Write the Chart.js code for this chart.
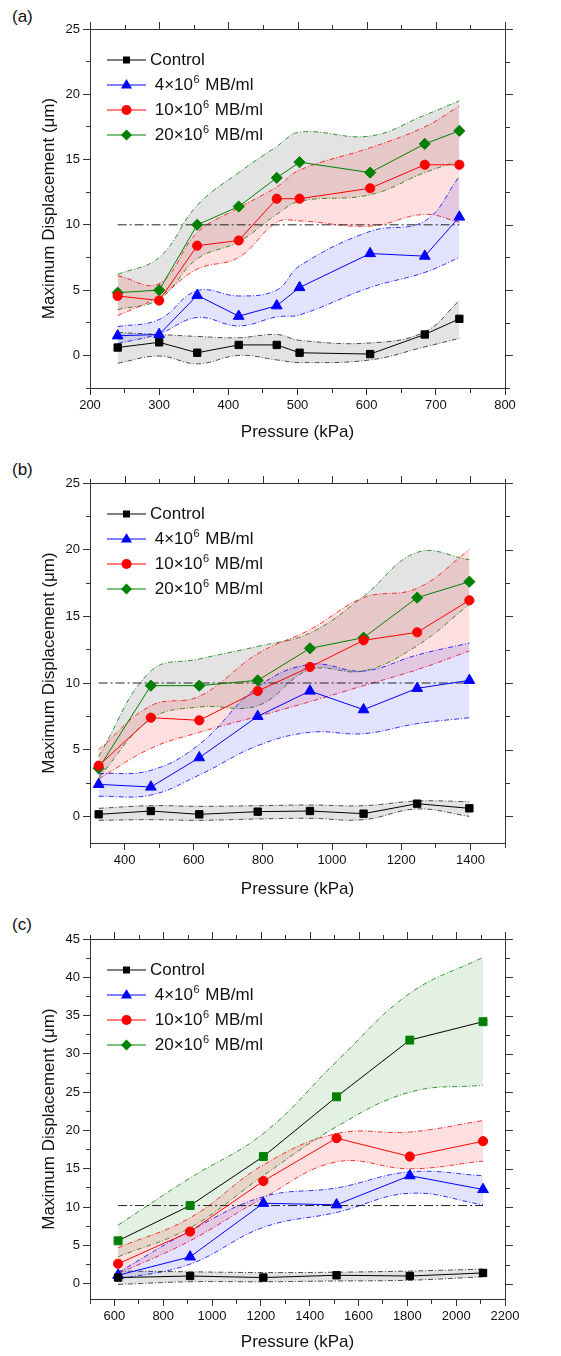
<!DOCTYPE html>
<html>
<head>
<meta charset="utf-8">
<title>Maximum displacement vs pressure</title>
<script src="https://cdn.jsdelivr.net/npm/chart.js@4.4.1/dist/chart.umd.min.js"></script>
<style>
  body { margin: 0; background: #fff; width: 561px; height: 1356px; position: relative; overflow: hidden; }
  canvas { position: absolute; left: 0; }
  .tag { position: absolute; left: 12px; font: 17px "Liberation Sans", Arial, sans-serif; color: #111; line-height: 20px; }
</style>
</head>
<body>
<div class="tag" style="top:7px">(a)</div>
<div class="tag" style="top:460px">(b)</div>
<div class="tag" style="top:915px">(c)</div>
<canvas id="chart-a" width="561" height="450" style="top:0"></canvas>
<canvas id="chart-b" width="561" height="455" style="top:450px"></canvas>
<canvas id="chart-c" width="561" height="451" style="top:905px"></canvas>
<script>
Chart.defaults.font.family = '"Liberation Sans", Arial, sans-serif';
Chart.defaults.color = '#111';

const seriesLabels = ['Control', ' 4×10⁶ MB/ml', ' 10×10⁶ MB/ml', ' 20×10⁶ MB/ml'];
const seriesColors = ['#000000', '#0000ff', '#ff0000', '#008000'];
const markerStyles = ['rect', 'triangle', 'circle', 'rectRot'];

// ---- panel (a)
const pressureA = [240, 300, 355, 415, 470, 503, 605, 684, 734];
const controlA = [0.6, 1.0, 0.2, 0.8, 0.8, 0.2, 0.1, 1.6, 2.8];
const controlA_hi = [1.75, 1.6, 1.45, 1.35, 1.6, 1.15, 0.95, 1.8, 4.2];
const controlA_lo = [-0.6, -0.05, -0.65, 0.0, -0.35, -0.55, -0.35, 0.65, 1.3];
const mb4A = [1.5, 1.6, 4.6, 3.0, 3.8, 5.2, 7.8, 7.6, 10.6];
const mb4A_hi = [2.2, 2.75, 4.95, 4.55, 5.0, 6.85, 9.5, 10.3, 13.7];
const mb4A_lo = [0.9, 1.65, 2.9, 2.25, 2.95, 3.1, 5.2, 6.35, 7.5];
const mb10A = [4.55, 4.2, 8.4, 8.8, 12.0, 12.0, 12.8, 14.6, 14.6];
const mb10A_hi = [6.1, 5.5, 9.4, 11.3, 12.9, 14.2, 15.9, 17.5, 19.1];
const mb10A_lo = [3.05, 4.5, 6.6, 7.5, 10.2, 10.3, 9.9, 10.8, 10.2];
const mb20A = [4.8, 5.0, 10.0, 11.4, 13.6, 14.8, 14.0, 16.2, 17.2];
const mb20A_hi = [6.2, 7.5, 11.5, 14.0, 16.0, 17.1, 16.8, 18.4, 19.5];
const mb20A_lo = [3.5, 4.3, 7.4, 8.7, 10.8, 11.8, 12.3, 14.0, 14.9];
const xTicksA = [200, 300, 400, 500, 600, 700, 800];
const yTicksA = [0, 5, 10, 15, 20, 25];

// ---- panel (b)
const pressureB = [325, 476, 616, 785, 936, 1091, 1246, 1397];
const controlB = [0.15, 0.4, 0.15, 0.35, 0.4, 0.2, 0.95, 0.6];
const controlB_hi = [0.6, 0.8, 0.75, 0.8, 0.85, 0.8, 1.15, 1.1];
const controlB_lo = [-0.3, -0.25, -0.3, -0.2, -0.15, -0.25, 0.55, 0.0];
const mb4B = [2.4, 2.2, 4.4, 7.5, 9.4, 8.0, 9.6, 10.2];
const mb4B_hi = [3.2, 3.45, 5.4, 9.7, 11.4, 10.9, 12.1, 13.0];
const mb4B_lo = [1.5, 1.6, 3.1, 5.3, 6.3, 6.2, 6.95, 7.4];
const mb10B = [3.8, 7.4, 7.2, 9.4, 11.2, 13.2, 13.8, 16.2];
const mb10B_hi = [5.0, 8.3, 9.0, 12.2, 14.0, 16.4, 17.1, 20.0];
const mb10B_lo = [2.8, 5.1, 6.3, 7.5, 8.6, 9.8, 11.0, 12.4];
const mb20B = [3.6, 9.8, 9.8, 10.2, 12.6, 13.4, 16.4, 17.6];
const mb20B_hi = [4.5, 10.9, 11.8, 12.75, 13.75, 16.5, 19.8, 19.25];
const mb20B_lo = [2.9, 7.3, 8.2, 8.3, 11.0, 10.9, 12.8, 15.9];
const xTicksB = [400, 600, 800, 1000, 1200, 1400];
const yTicksB = [0, 5, 10, 15, 20, 25];

// ---- panel (c)
const pressureC = [615, 910, 1210, 1510, 1810, 2110];
const controlC = [0.8, 1.0, 0.8, 1.1, 1.0, 1.4];
const controlC_hi = [1.65, 1.55, 1.45, 1.5, 1.65, 1.9];
const controlC_lo = [-0.1, 0.25, 0.25, 0.35, 0.45, 0.9];
const mb4C = [1.1, 3.5, 10.5, 10.3, 14.1, 12.3];
const mb4C_hi = [1.45, 6.9, 11.35, 12.5, 14.6, 14.1];
const mb4C_lo = [0.55, 2.55, 7.35, 9.3, 11.8, 10.3];
const mb10C = [2.6, 6.8, 13.4, 19.0, 16.6, 18.6];
const mb10C_hi = [4.7, 8.6, 15.5, 19.6, 19.8, 21.3];
const mb10C_lo = [1.3, 5.6, 11.2, 15.9, 15.0, 16.0];
const mb20C = [5.6, 10.2, 16.6, 24.4, 31.8, 34.2];
const mb20C_hi = [7.65, 13.8, 19.6, 29.0, 37.9, 42.6];
const mb20C_lo = [3.5, 7.3, 14.1, 20.5, 25.0, 25.9];
const xTicksC = [600, 800, 1000, 1200, 1400, 1600, 1800, 2000, 2200];
const yTicksC = [0, 5, 10, 15, 20, 25, 30, 35, 40, 45];

// dash-dot reference levels
const refA = 10, refB = 10, refC = 10.2;

const FONT = '"Liberation Sans", Arial, sans-serif';

function drawMarker(ctx, style, cx, cy, color) {
  ctx.fillStyle = color;
  ctx.beginPath();
  if (style === 'rect') ctx.rect(cx - 3.5, cy - 3.5, 7, 7);
  else if (style === 'triangle') { ctx.moveTo(cx, cy - 6); ctx.lineTo(cx + 5.5, cy + 3.5); ctx.lineTo(cx - 5.5, cy + 3.5); ctx.closePath(); }
  else if (style === 'circle') ctx.arc(cx, cy, 5, 0, Math.PI * 2);
  else { ctx.moveTo(cx, cy - 5.5); ctx.lineTo(cx + 5.5, cy); ctx.lineTo(cx, cy + 5.5); ctx.lineTo(cx - 5.5, cy); ctx.closePath(); }
  ctx.fill();
}

const near = (v, m) => Math.abs(v / m - Math.round(v / m)) < 1e-6;

// top/right frame edges with their ticks, plus the legend inside the plot
function panelDecor(f) {
  return {
    id: 'panelDecor',
    afterDraw(chart) {
      const ctx = chart.ctx;
      const a = chart.chartArea;
      const xs = chart.scales.x, ys = chart.scales.y;
      const L = Math.round(a.left), T = Math.round(a.top), R = Math.round(a.right), B = Math.round(a.bottom);
      ctx.save();
      ctx.fillStyle = '#333';
      ctx.fillRect(L, T, R - L + 1, 1);
      ctx.fillRect(R, T, 1, B - T + 1);
      for (let v = Math.ceil(xs.min / f.xMinor) * f.xMinor; v <= xs.max + 1e-6; v += f.xMinor) {
        const px = Math.round(xs.getPixelForValue(v));
        const len = near(v, f.xMajor) ? 7 : 4;
        ctx.fillRect(px, T - len, 1, len);
      }
      for (let v = Math.ceil(ys.min / f.yMinor) * f.yMinor; v <= ys.max + 1e-6; v += f.yMinor) {
        const py = Math.round(ys.getPixelForValue(v));
        const len = near(v, f.yMajor) ? 7 : 4;
        ctx.fillRect(R + 1, py, len, 1);
      }

      ctx.lineWidth = 1;
      seriesLabels.forEach((label, i) => {
        const ly = a.top + 31 + i * 25;
        const x0 = a.left + 17, x1 = a.left + 56;
        ctx.strokeStyle = seriesColors[i];
        ctx.beginPath(); ctx.moveTo(x0, ly); ctx.lineTo(x1, ly); ctx.stroke();
        drawMarker(ctx, markerStyles[i], (x0 + x1) / 2, ly, seriesColors[i]);
        ctx.fillStyle = '#111';
        ctx.textBaseline = 'middle';
        ctx.textAlign = 'left';
        ctx.font = '17px ' + FONT;
        let tx = a.left + 60;
        const parts = label.split('⁶');
        ctx.fillText(parts[0], tx, ly);
        if (parts.length > 1) {
          tx += ctx.measureText(parts[0]).width + 0.5;
          ctx.font = '11px ' + FONT;
          ctx.fillText('6', tx, ly - 5);
          tx += ctx.measureText('6').width + 1;
          ctx.font = '17px ' + FONT;
          ctx.fillText(parts[1], tx, ly);
        }
      });
      ctx.restore();
    }
  };
}

// bottom/left axes with outward major/minor ticks; minor ticks shortened with a dash
function frameAxis(pos, min, max, major, minor, labels, extra) {
  const fromAxis = (pos === 'bottom' || pos === 'right');
  const ax = {
    type: 'linear', position: pos, min: min, max: max,
    grid: {
      display: true, drawOnChartArea: false, drawTicks: true, tickLength: 7,
      tickColor: '#333', tickWidth: 1,
      tickBorderDash: c => (c.tick && near(c.tick.value, major)) ? [] : (fromAxis ? [4, 100] : [0, 3, 4, 100])
    },
    border: {display: true, color: '#333', width: 1},
    afterBuildTicks: s => {
      const t = [];
      for (let v = Math.ceil(min / minor) * minor; v <= max + 1e-6; v += minor) t.push({value: Math.round(v * 1000) / 1000});
      s.ticks = t;
    },
    ticks: {
      autoSkip: false, maxRotation: 0, font: {size: 13},
      callback: v => labels.includes(v) ? String(v) : ''
    }
  };
  return Object.assign(ax, extra);
}

function buildPanel(id, p) {
  const pts = ys => p.x.map((x, i) => ({x: x, y: ys[i]}));
  const datasets = [];
  // measured series (drawn on top)
  p.series.forEach((s, i) => {
    datasets.push({
      label: seriesLabels[i],
      data: pts(s),
      borderColor: (p.lineColors && p.lineColors[i]) || seriesColors[i],
      backgroundColor: seriesColors[i],
      pointBackgroundColor: seriesColors[i],
      pointBorderColor: seriesColors[i],
      pointStyle: (p.pointStyles && p.pointStyles[i]) || markerStyles[i],
      pointRadius: [5.2, 6.2, 4.6, 5.6][i],
      pointBorderWidth: 1,
      borderWidth: 1,
      tension: 0,
      fill: false
    });
  });
  datasets.push({
    data: [{x: p.x[0], y: p.ref}, {x: p.x[p.x.length - 1], y: p.ref}],
    borderColor: '#222',
    borderWidth: 1,
    borderDash: [9, 3, 2, 3],
    pointRadius: 0,
    fill: false
  });
  // shaded spread bands (lower / upper dash-dot bounds)
  p.bands.forEach((b, i) => {
    const line = {
      borderColor: p.bandLines[i],
      borderWidth: 0.8,
      borderDash: [5, 2, 1, 2],
      pointRadius: 0,
      tension: 0.4
    };
    datasets.push(Object.assign({data: pts(b[0]), fill: false}, line));
    datasets.push(Object.assign({data: pts(b[1]), fill: '-1', backgroundColor: p.bandFills[i]}, line));
  });

  const f = p.frame;
  return new Chart(document.getElementById(id), {
    type: 'line',
    data: {datasets: datasets},
    options: {
      responsive: false,
      animation: false,
      events: [],
      layout: {padding: {top: p.padTop, right: 56, left: 0, bottom: 0}},
      plugins: {
        legend: {display: false},
        tooltip: {enabled: false}
      },
      scales: {
        x: frameAxis('bottom', p.xMin, p.xMax, f.xMajor, f.xMinor, p.xTicks, {
          afterFit: s => { s.height = p.xAxisH; },
          title: {display: true, text: 'Pressure (kPa)', font: {size: 17}, padding: {top: 0, bottom: p.xTitlePad}}
        }),
        y: frameAxis('left', p.yMin, p.yMax, f.yMajor, f.yMinor, p.yTicks, {
          afterFit: s => { s.width = 90; },
          title: {display: true, text: 'Maximum Displacement (μm)', font: {size: 17}, padding: {top: 39, bottom: 0}}
        })
      }
    },
    plugins: [panelDecor(f)]
  });
}

const grayFill = 'rgba(0,0,0,0.11)';
const blueFill = 'rgba(0,0,255,0.11)';
const redFill = 'rgba(255,0,0,0.12)';
const greenFill = 'rgba(0,128,0,0.11)';

const chartA = buildPanel('chart-a', {
  x: pressureA, ref: refA, padTop: 29, xAxisH: 62, xTitlePad: 7,
  xMin: 200, xMax: 800, yMin: -2.5, yMax: 25, xTicks: xTicksA, yTicks: yTicksA,
  frame: {xMajor: 100, xMinor: 50, yMajor: 5, yMinor: 2.5},
  series: [controlA, mb4A, mb10A, mb20A],
  bands: [[controlA_lo, controlA_hi], [mb4A_lo, mb4A_hi], [mb10A_lo, mb10A_hi], [mb20A_lo, mb20A_hi]],
  bandLines: ['#222', '#0000ff', '#ff0000', '#008000'],
  bandFills: [grayFill, blueFill, redFill, grayFill]
});

const chartB = buildPanel('chart-b', {
  x: pressureB, ref: refB, padTop: 33, xAxisH: 62, xTitlePad: 5,
  xMin: 300, xMax: 1500, yMin: -2, yMax: 25, xTicks: xTicksB, yTicks: yTicksB,
  frame: {xMajor: 200, xMinor: 100, yMajor: 5, yMinor: 2.5},
  series: [controlB, mb4B, mb10B, mb20B],
  bands: [[controlB_lo, controlB_hi], [mb4B_lo, mb4B_hi], [mb10B_lo, mb10B_hi], [mb20B_lo, mb20B_hi]],
  bandLines: ['#222', '#0000ff', '#ff0000', '#008000'],
  bandFills: [grayFill, blueFill, redFill, grayFill]
});

const chartC = buildPanel('chart-c', {
  x: pressureC, ref: refC, padTop: 34, xAxisH: 57, xTitlePad: 3,
  xMin: 500, xMax: 2200, yMin: -2, yMax: 45, xTicks: xTicksC, yTicks: yTicksC,
  frame: {xMajor: 200, xMinor: 100, yMajor: 5, yMinor: 2.5},
  series: [controlC, mb4C, mb10C, mb20C],
  // in (c) the 20x10^6 points are green squares joined by a black line
  lineColors: [null, null, null, '#000000'],
  pointStyles: [null, null, null, 'rect'],
  bands: [[controlC_lo, controlC_hi], [mb4C_lo, mb4C_hi], [mb10C_lo, mb10C_hi], [mb20C_lo, mb20C_hi]],
  bandLines: ['#222', '#0000ff', '#ff0000', '#008000'],
  bandFills: [grayFill, blueFill, redFill, greenFill]
});
</script>
</body>
</html>
